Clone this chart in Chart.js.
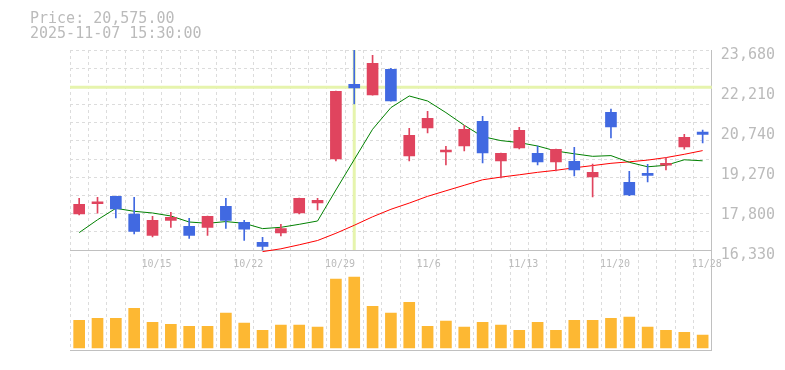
<!DOCTYPE html>
<html><head><meta charset="utf-8">
<script src="https://cdn.jsdelivr.net/npm/chart.js@4.4.1/dist/chart.umd.min.js"></script>
<style>html,body{margin:0;padding:0;background:#fff}canvas{display:block}</style>
</head><body>
<canvas id="c" width="785" height="370"></canvas>
<script>
// ---- data ----
const dates = ['10/8','10/9','10/10','10/14','10/15','10/16','10/17','10/20','10/21','10/22','10/23','10/24','10/27','10/28','10/29','10/30','10/31','11/4','11/5','11/6','11/7','11/10','11/11','11/12','11/13','11/14','11/17','11/18','11/19','11/20','11/21','11/25','11/26','11/27','11/28'];
const openP  = [17653,18030,18303,17653,16870,17421,17201,17164,17936,17348,16613,16955,17690,18057,19674,22419,22026,22971,19785,20814,19932,20152,21060,19601,20078,19884,19564,19590,19013,21390,18818,19138,19443,20115,20667];
const highP  = [18230,18267,18310,18267,17568,17715,17495,17580,18230,17421,16797,17274,18240,18230,22170,23680,23485,23008,20803,21427,20141,20913,21243,19890,20839,20152,20040,20104,19491,21512,19222,19479,19737,20582,20740];
const lowP   = [17616,17679,17506,16918,16808,17164,16760,16870,17127,16686,16330,16845,17653,17800,19601,21696,22020,21800,19601,20630,19454,19968,19527,18976,20042,19454,19233,19050,18278,20446,18330,18829,19270,20031,20262];
const closeP = [18010,18046,17837,17017,17421,17532,16870,17568,17421,17091,16466,17116,18230,18156,22162,22284,23191,21806,20545,21170,19994,20766,19895,19884,20729,19564,20031,19270,19186,20850,18351,19075,19516,20472,20575];
const volume = [690,740,740,990,640,590,540,540,870,620,440,570,570,520,1720,1770,1040,870,1140,540,670,520,640,570,440,640,440,690,690,740,770,520,440,390,320];
const maShort = [16969,17440,17862,17752,17690,17580,17359,17311,17374,17311,17116,17164,17274,17396,18535,19652,20766,21563,21990,21806,21380,20913,20497,20350,20277,20152,19968,19865,19773,19799,19553,19388,19443,19645,19608];
const maLong = [null,null,null,null,null,null,null,null,null,null,16271,16374,16521,16679,16944,17238,17550,17826,18054,18303,18506,18708,18910,19009,19094,19185,19259,19351,19432,19516,19571,19634,19726,19847,19983];
const priceTicks = [16330,17800,19270,20740,22210,23680];
const shownDates = ['10/15','10/22','10/29','11/6','11/13','11/20','11/28'];
const headerLines = ['Price: 20,575.00','2025-11-07 15:30:00'];
const crossDate = ['10/30'];
const crossPrice = [22309];

// ---- styles ----
const UP = '#e0445e', DOWN = '#4169e1', VOL = '#fdb833';
const GRID = '#dcdcdc', AXIS = '#c0c0c0', TXT = '#bbbbbb', CROSS = '#e6f4ad';
const MONO = '"DejaVu Sans Mono", "Liberation Mono", monospace';
const candleColor = openP.map((o, i) => closeP[i] >= o ? UP : DOWN);

const yMin = priceTicks[0] - (priceTicks[priceTicks.length-1] - priceTicks[0]) / 2;
const yMax = priceTicks[priceTicks.length-1];
const gridCount = 11;
const gridValues = Array.from({length: gridCount}, (_, k) => priceTicks[0] + (k + 1) * (yMax - priceTicks[0]) / gridCount);

const crosshair = {
  id: 'crosshair',
  beforeDatasetsDraw(chart) {
    const {ctx, chartArea: a, scales} = chart;
    const px = scales.x.getPixelForValue(dates.indexOf(crossDate[0]));
    const py = scales.y.getPixelForValue(crossPrice[0]);
    const pb = scales.y.getPixelForValue(priceTicks[0]);
    ctx.save();
    ctx.strokeStyle = CROSS;
    ctx.lineWidth = 3;
    ctx.beginPath();
    ctx.moveTo(a.left, py); ctx.lineTo(a.right, py);
    ctx.moveTo(px, a.top); ctx.lineTo(px, pb);
    ctx.stroke();
    ctx.restore();
  }
};
const header = {
  id: 'header',
  afterDraw(chart) {
    const ctx = chart.ctx;
    ctx.save();
    ctx.font = '15px ' + MONO;
    ctx.fillStyle = TXT;
    ctx.textBaseline = 'alphabetic';
    ctx.textAlign = 'left';
    ctx.fillText(headerLines[0], 30, 23);
    ctx.fillText(headerLines[1], 30, 38);
    ctx.restore();
  }
};

new Chart(document.getElementById('c'), {
  data: {
    labels: dates,
    datasets: [
      {type: 'bar', data: volume, yAxisID: 'yv', xAxisID: 'x', backgroundColor: VOL, barThickness: 11, grouped: false, borderWidth: 0, order: 5},
      {type: 'line', data: maLong, yAxisID: 'y', xAxisID: 'x', borderColor: '#ff0000', borderWidth: 1, pointRadius: 0, tension: 0, order: 4},
      {type: 'line', data: maShort, yAxisID: 'y', xAxisID: 'x', borderColor: '#008000', borderWidth: 1, pointRadius: 0, tension: 0, order: 3},
      {type: 'bar', data: lowP.map((l, i) => [l, highP[i]]), yAxisID: 'y', xAxisID: 'x', backgroundColor: candleColor, barThickness: 1, grouped: false, borderWidth: 0, order: 2},
      {type: 'bar', data: openP.map((o, i) => [o, closeP[i]]), yAxisID: 'y', xAxisID: 'x', backgroundColor: candleColor, barThickness: 11, minBarLength: 2, grouped: false, borderWidth: 0, order: 1}
    ]
  },
  options: {
    responsive: false,
    animation: false,
    devicePixelRatio: 1,
    layout: {padding: {left: 70, top: 50, right: 1, bottom: 20}},
    plugins: {legend: {display: false}, tooltip: {enabled: false}, title: {display: false}},
    scales: {
      x: {
        type: 'category', position: 'bottom', offset: true,
        grid: {display: true, offset: true, color: GRID, drawTicks: false, lineWidth: 1},
        border: {display: true, color: AXIS, dash: [3, 3]},
        ticks: {display: false}
      },
      xl: {
        type: 'category', position: {y: priceTicks[0]}, offset: true,
        grid: {display: false, drawTicks: false},
        border: {display: true, color: AXIS},
        ticks: {
          autoSkip: false, maxRotation: 0, minRotation: 0, align: 'start', labelOffset: -11, padding: 8,
          color: TXT, font: {family: MONO, size: 10},
          callback: (v, i) => shownDates.includes(dates[i]) ? dates[i] : ''
        }
      },
      y: {
        type: 'linear', position: 'right', min: yMin, max: yMax,
        afterBuildTicks: (s) => { s.ticks = priceTicks.map(v => ({value: v})); },
        grid: {display: false, drawTicks: false},
        border: {display: true, color: AXIS},
        ticks: {color: TXT, font: {family: MONO, size: 15}, padding: 9, labelOffset: 5,
          callback: (v) => Number(v).toLocaleString('en-US')}
      },
      yg: {
        type: 'linear', position: 'right', min: yMin, max: yMax,
        afterBuildTicks: (s) => { s.ticks = gridValues.map(v => ({value: v})); },
        grid: {display: true, color: GRID, drawTicks: false},
        border: {display: false, dash: [3, 3]},
        ticks: {display: false}
      },
      yv: {
        type: 'linear', display: false, min: -50, max: 7450
      }
    }
  },
  plugins: [crosshair, header]
});
</script>
</body></html>
